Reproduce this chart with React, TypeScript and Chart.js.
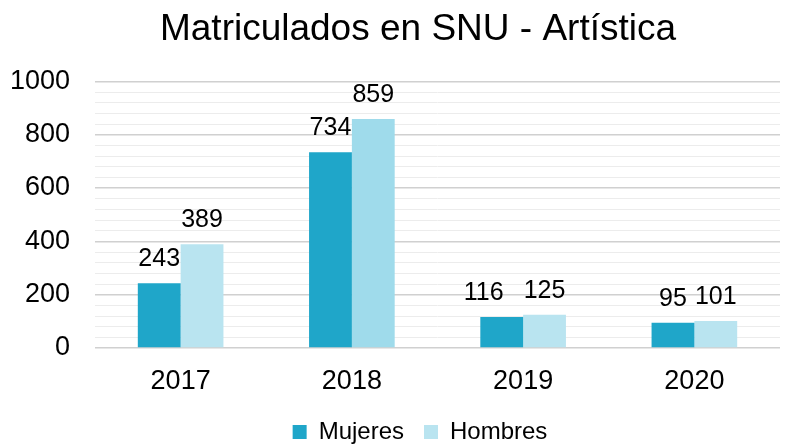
import React, { useEffect, useRef } from "react";
import { Chart, registerables } from "chart.js";

Chart.register(...registerables);

const categories = ["2017", "2018", "2019", "2020"];
const mujeres = [243, 734, 116, 95];
const hombres = [389, 859, 125, 101];
const seriesNames = ["Mujeres", "Hombres"];
const mujeresColor = "#1FA6C9";
const hombresColors = ["#B9E4F0", "#9FDBEB", "#B9E4F0", "#B9E4F0"];
const FONT = "'Liberation Sans', Arial, sans-serif";
const LABEL_SIZE = 25;

const dataLabels = {
  id: "dataLabels",
  afterDatasetsDraw(chart: any) {
    const ctx = chart.ctx;
    ctx.save();
    ctx.font = `${LABEL_SIZE}px ${FONT}`;
    ctx.fillStyle = "#000";
    ctx.textAlign = "center";
    ctx.textBaseline = "alphabetic";
    const metas = chart.data.datasets.map((_: any, i: number) => chart.getDatasetMeta(i));
    const n = chart.data.labels.length;
    for (let j = 0; j < n; j++) {
      const items = metas.map((m: any, i: number) => {
        const bar = m.data[j];
        const text = String(chart.data.datasets[i].data[j]);
        const w = ctx.measureText(text).width;
        return { text, x: bar.x, y: bar.y - 17, w };
      });
      // avoid overlap between neighbouring labels in one category
      for (let k = 0; k < items.length - 1; k++) {
        const a = items[k];
        const b = items[k + 1];
        const vOverlap = Math.abs(a.y - b.y) < LABEL_SIZE * 0.75;
        const gap = b.x - b.w / 2 - (a.x + a.w / 2);
        if (vOverlap && gap < 6) {
          a.x -= 20 - gap;
        }
      }
      items.forEach((it: any) => ctx.fillText(it.text, it.x, it.y));
    }
    ctx.restore();
  },
};

// centre the title and legend a little to the right, like the original
const centreShift = {
  id: "centreShift",
  afterLayout(chart: any) {
    if (chart.titleBlock) chart.titleBlock.left += 56;
    if (chart.legend) chart.legend.left += 60;
  },
};

export default function App() {
  const ref = useRef<HTMLCanvasElement>(null);
  useEffect(() => {
    document.body.style.margin = "0";
    const chart = new Chart(ref.current!, {
      type: "bar",
      data: {
        labels: categories,
        datasets: [
          { label: seriesNames[0], data: mujeres, backgroundColor: mujeresColor },
          { label: seriesNames[1], data: hombres, backgroundColor: hombresColors },
        ],
      },
      plugins: [dataLabels, centreShift],
      options: {
        animation: false,
        responsive: false,
        layout: { padding: { left: 0, right: 20, top: 8, bottom: 0 } },
        datasets: { bar: { categoryPercentage: 0.5, barPercentage: 1.0 } },
        plugins: {
          title: {
            display: true,
            text: "Matriculados en SNU - Artística",
            color: "#000",
            font: { family: FONT, size: 37, weight: "normal" },
            padding: { top: 0, bottom: 29 },
          },
          legend: {
            position: "bottom",
            maxHeight: 47,
            labels: {
              color: "#000",
              font: { family: FONT, size: 24 },
              boxWidth: 14,
              boxHeight: 14,
              padding: 20,
              generateLabels: (chart: any) =>
                chart.data.datasets.map((ds: any, i: number) => ({
                  text: ds.label,
                  fillStyle: i === 0 ? mujeresColor : hombresColors[0],
                  strokeStyle: "transparent",
                  lineWidth: 0,
                  hidden: false,
                  datasetIndex: i,
                  fontColor: "#000",
                })),
            },
          },
          tooltip: { enabled: false },
        },
        scales: {
          x: {
            grid: { display: false },
            border: { display: false },
            ticks: { color: "#000", font: { family: FONT, size: 27 }, padding: 9 },
            afterFit: (scale: any) => {
              scale.height = 52;
            },
          },
          y: {
            min: 0,
            max: 1000,
            border: { display: false },
            grid: {
              drawTicks: false,
              color: (c: any) => (c.tick.value % 200 === 0 ? "#d0d0d0" : "#ececec"),
              lineWidth: (c: any) => (c.tick.value % 200 === 0 ? 1.5 : 1),
            },
            ticks: {
              stepSize: 40,
              autoSkip: false,
              color: "#000",
              font: { family: FONT, size: 27 },
              padding: 25,
              callback: (v: any) => (v % 200 === 0 ? String(v) : ""),
            },
            afterFit: (scale: any) => {
              scale.width = 95;
            },
          },
        },
      },
    });
    return () => chart.destroy();
  }, []);
  return (
    <div style={{ width: 800, height: 447 }}>
      <canvas ref={ref} width={800} height={447} />
    </div>
  );
}
